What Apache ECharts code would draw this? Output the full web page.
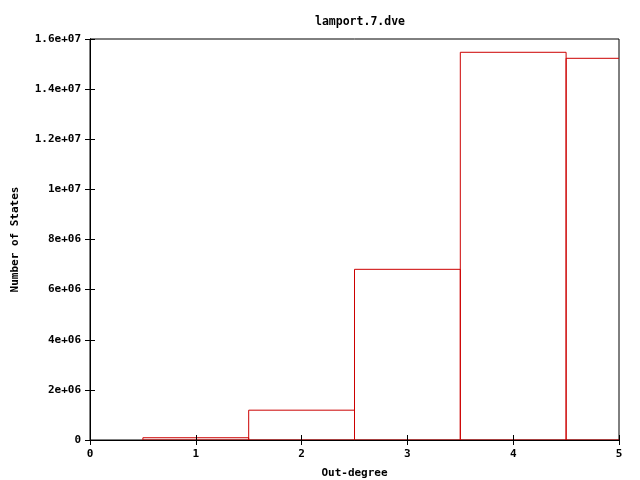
<!DOCTYPE html>
<html>
<head>
<meta charset="utf-8">
<script src="https://cdn.jsdelivr.net/npm/echarts@6/dist/echarts.min.js"></script>
<style>
  html, body { margin: 0; padding: 0; background: #fff; }
  #chart { width: 640px; height: 480px; }
</style>
</head>
<body>
<div id="chart"></div>
<script>
// out-degree histogram, values
const outDegree = [1, 2, 3, 4, 5];
const numStates = [90000, 1190000, 6810000, 15470000, 15230000];

const font = 'DejaVu Sans Mono';
const red = '#cc0000';

// gnuplot style labels: 2e+06, 1.2e+07 ...
function gnuFmt(v) {
  if (v === 0) return '0';
  let s = v.toExponential();
  return s.replace(/e([+-])(\d)$/, 'e$10$2');
}

const chartDom = document.getElementById('chart');
const myChart = echarts.init(chartDom);

const txt = { fontFamily: font, fontSize: 11, fontWeight: 'bold', color: '#000' };

const option = {
  animation: false,
  title: {
    text: 'lamport.7.dve',
    left: 355,
    top: 11,
    textAlign: 'center',
    textStyle: Object.assign({}, txt, { fontSize: 11.5 })
  },
  grid: {
    left: 90, right: 21, top: 39, bottom: 40,
    outerBoundsMode: 'none',
    containLabel: false,
    show: true, borderColor: '#000', borderWidth: 1, backgroundColor: 'transparent'
  },
  xAxis: [{
    type: 'value', min: 0, max: 5, interval: 1, z: 5,
    name: 'Out-degree', nameLocation: 'middle', nameGap: 28,
    nameTextStyle: txt,
    axisLine: { show: true, lineStyle: { color: '#000' } },
    axisTick: { show: true, inside: true, length: 5, lineStyle: { color: '#000' } },
    axisLabel: Object.assign({ margin: 9 }, txt),
    splitLine: { show: false }
  }, {
    type: 'value', min: 0, max: 5, interval: 1, position: 'top', z: 5,
    axisLine: { show: true, lineStyle: { color: '#000' } },
    axisTick: { show: true, inside: true, length: 5, lineStyle: { color: '#000' } },
    axisLabel: { show: false },
    splitLine: { show: false }
  }],
  yAxis: [{
    type: 'value', min: 0, max: 16000000, interval: 2000000, z: 5,
    name: 'Number of States', nameLocation: 'middle', nameGap: 69,
    nameTextStyle: txt,
    axisLine: { show: true, lineStyle: { color: '#000' } },
    axisTick: { show: true, inside: true, length: 5, lineStyle: { color: '#000' } },
    axisLabel: Object.assign({ margin: 9, formatter: gnuFmt }, txt),
    splitLine: { show: false }
  }, {
    type: 'value', min: 0, max: 16000000, interval: 2000000, position: 'right', z: 5,
    axisLine: { show: true, lineStyle: { color: '#000' } },
    axisTick: { show: true, inside: true, length: 5, lineStyle: { color: '#000' } },
    axisLabel: { show: false },
    splitLine: { show: false }
  }],
  series: [{
    type: 'custom',
    clip: true,
    z: 1,
    data: outDegree.map((x, i) => [x, numStates[i]]),
    renderItem: function (params, api) {
      const x = api.value(0);
      const y = api.value(1);
      const p0 = api.coord([x - 0.5, 0]);
      const p1 = api.coord([x + 0.5, y]);
      return {
        type: 'rect',
        shape: { x: p0[0], y: p1[1], width: p1[0] - p0[0], height: p0[1] - p1[1] },
        style: { fill: 'none', stroke: red, lineWidth: 1 }
      };
    }
  }]
};

option && myChart.setOption(option);
</script>
</body>
</html>
